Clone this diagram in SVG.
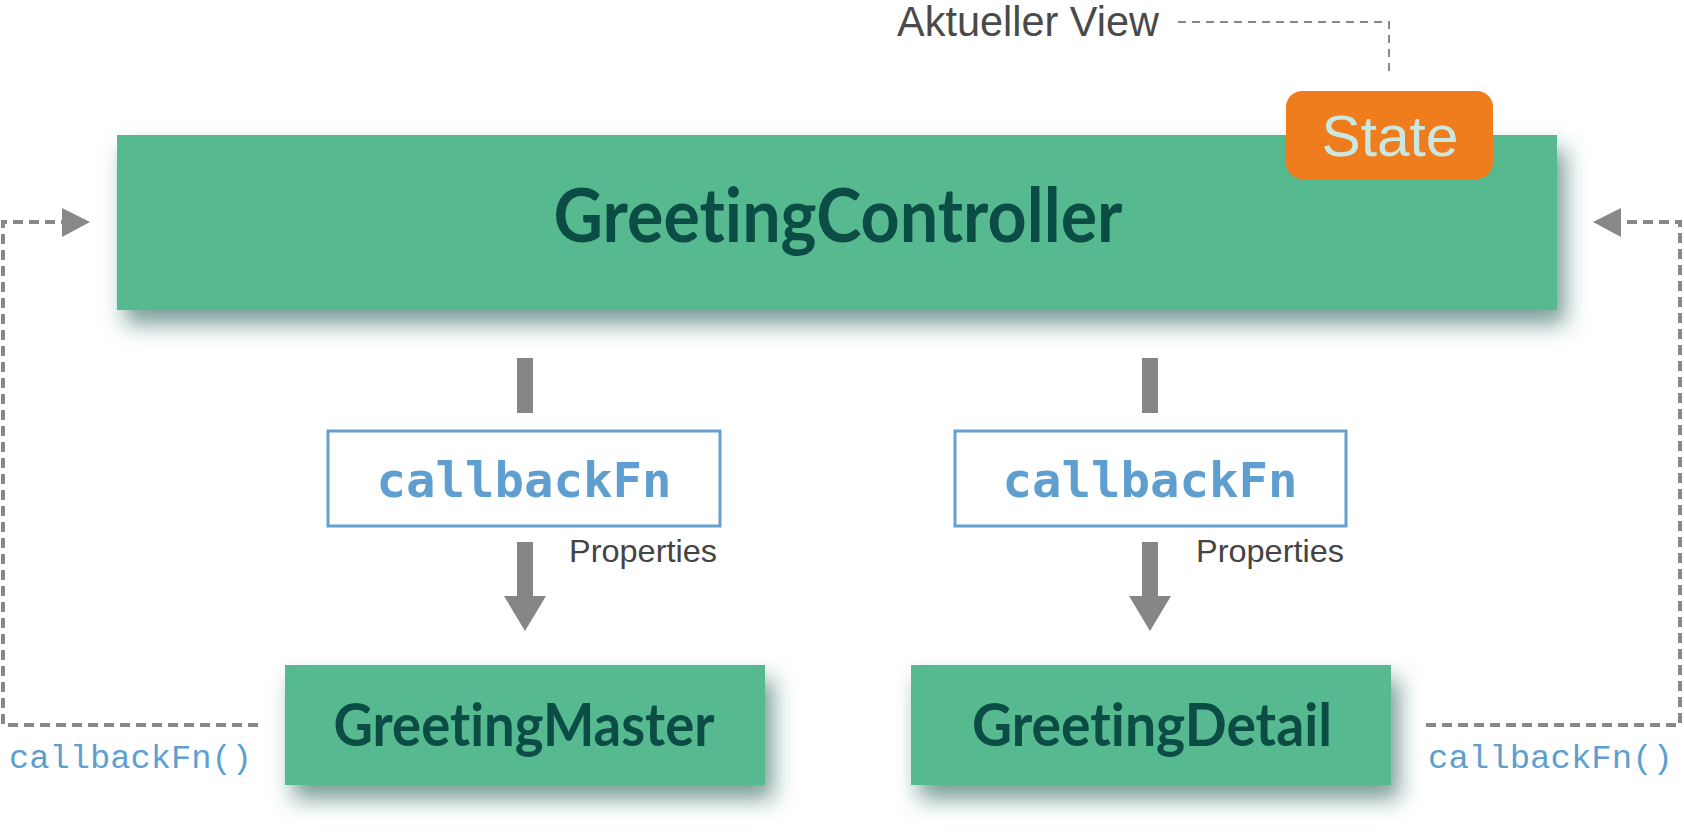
<svg xmlns="http://www.w3.org/2000/svg" width="1684" height="835" viewBox="0 0 1684 835">
<style>
.node{fill:#56b98f}
.title{font-family:Lato,"Liberation Sans",sans-serif;font-weight:bold;fill:#0b4d45;text-anchor:middle;font-variant-ligatures:none;font-feature-settings:"liga" 0,"dlig" 0}
.cbbox{fill:#fff;stroke:#64a1d1;stroke-width:3}
.cbtext{font-family:"DejaVu Sans Mono","Liberation Mono",monospace;font-weight:bold;font-size:48px;fill:#5e9fd0;text-anchor:middle}
.cbcall{font-family:"Liberation Mono","DejaVu Sans Mono",monospace;font-size:34px;fill:#5e9fd0}
.props{font-family:"Liberation Sans",Arial,sans-serif;font-size:32px;fill:#444}
.dash{fill:none;stroke:#888;stroke-width:4;stroke-dasharray:10 6}
.thin{fill:none;stroke:#888;stroke-width:2;stroke-dasharray:8 6}
.bar{fill:#868686}
</style>
<defs>
<filter id="sh" x="-10%" y="-25%" width="130%" height="180%">
<feDropShadow dx="8" dy="14" stdDeviation="11" flood-color="#1d5a52" flood-opacity="0.6"/>
</filter>
</defs>
<rect width="1684" height="835" fill="#fff"/>

<g id="connectors">
<path class="thin" d="M1178 22 H1389 V73"/>
<path class="dash" d="M258 725 H3 V222 H64"/>
<polygon fill="#888" points="62,208 90,222 62,237"/>
<path class="dash" d="M1426 725 H1680 V222 H1618"/>
<polygon fill="#888" points="1621,208 1593,222 1621,237"/>
<rect class="bar" x="517" y="358" width="16" height="55"/>
<rect class="bar" x="1142" y="358" width="16" height="55"/>
<rect class="bar" x="517" y="542" width="16" height="56"/>
<polygon class="bar" points="504,596 546,596 525,631"/>
<rect class="bar" x="1142" y="542" width="16" height="56"/>
<polygon class="bar" points="1129,596 1171,596 1150,631"/>
</g>

<g id="aktueller-view">
<text x="897" y="36" font-family="Liberation Sans,Arial,sans-serif" font-size="42" fill="#4a4a4a" textLength="262" lengthAdjust="spacingAndGlyphs">Aktueller View</text>
</g>

<g id="greeting-controller">
<rect class="node" x="117" y="135" width="1440" height="175" filter="url(#sh)"/>
<text class="title" x="838" y="242" font-size="75" textLength="569" lengthAdjust="spacingAndGlyphs">GreetingController</text>
</g>

<g id="state">
<rect x="1286" y="91" width="207" height="88" rx="16" fill="#ef7d1e"/>
<text x="1390" y="156" font-family="Liberation Sans,Arial,sans-serif" font-size="58" fill="#c9e8e1" text-anchor="middle" textLength="137" lengthAdjust="spacingAndGlyphs">State</text>
</g>

<g id="callback-left">
<rect class="cbbox" x="328" y="431" width="392" height="95"/>
<text class="cbtext" x="524" y="497" textLength="295" lengthAdjust="spacingAndGlyphs">callbackFn</text>
<text class="props" x="569" y="562" textLength="148" lengthAdjust="spacingAndGlyphs">Properties</text>
</g>

<g id="callback-right">
<rect class="cbbox" x="955" y="431" width="391" height="95"/>
<text class="cbtext" x="1150" y="497" textLength="295" lengthAdjust="spacingAndGlyphs">callbackFn</text>
<text class="props" x="1196" y="562" textLength="148" lengthAdjust="spacingAndGlyphs">Properties</text>
</g>

<g id="greeting-master">
<rect class="node" x="285" y="665" width="480" height="120" filter="url(#sh)"/>
<text class="title" x="524" y="746" font-size="60" textLength="381" lengthAdjust="spacingAndGlyphs">GreetingMaster</text>
</g>

<g id="greeting-detail">
<rect class="node" x="911" y="665" width="480" height="120" filter="url(#sh)"/>
<text class="title" x="1152" y="746" font-size="60" textLength="360" lengthAdjust="spacingAndGlyphs">GreetingDetail</text>
</g>

<g id="labels">
<text class="cbcall" x="9" y="768" textLength="243" lengthAdjust="spacingAndGlyphs">callbackFn()</text>
<text class="cbcall" x="1428" y="768" textLength="245" lengthAdjust="spacingAndGlyphs">callbackFn()</text>
</g>
</svg>
